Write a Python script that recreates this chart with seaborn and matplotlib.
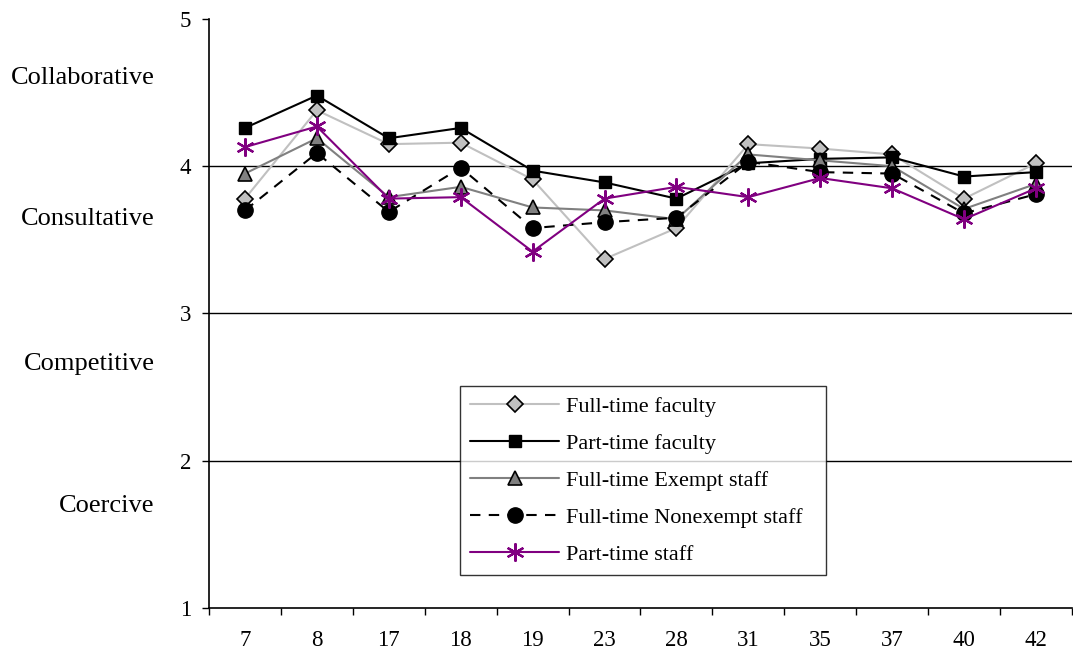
import numpy as np
import pandas as pd
import matplotlib
matplotlib.use("Agg")
import matplotlib.pyplot as plt
import seaborn as sns

# Survey items and mean scores per employee group
items = ["7", "8", "17", "18", "19", "23", "28", "31", "35", "37", "40", "42"]
full_time_faculty = [3.78, 4.38, 4.15, 4.16, 3.91, 3.37, 3.58, 4.15, 4.12, 4.08, 3.78, 4.02]
part_time_faculty = [4.26, 4.48, 4.19, 4.26, 3.97, 3.89, 3.78, 4.02, 4.05, 4.06, 3.93, 3.96]
ft_exempt_staff = [3.95, 4.19, 3.79, 3.86, 3.72, 3.70, 3.64, 4.08, 4.04, 4.00, 3.71, 3.88]
ft_nonexempt_staff = [3.70, 4.09, 3.69, 3.99, 3.58, 3.62, 3.65, 4.03, 3.96, 3.95, 3.68, 3.81]
part_time_staff = [4.13, 4.27, 3.78, 3.79, 3.42, 3.78, 3.86, 3.79, 3.92, 3.85, 3.64, 3.85]

# Style categories on the left of the scale
style_labels = ["Collaborative", "Consultative", "Competitive", "Coercive"]
style_levels = [4.6, 3.64, 2.66, 1.69]

sns.set_theme(style="white")
plt.rcParams["font.family"] = ["Liberation Serif", "DejaVu Serif"]
plt.rcParams["text.color"] = "black"
plt.rcParams["xtick.labelcolor"] = "black"
plt.rcParams["ytick.labelcolor"] = "black"

fig = plt.figure(figsize=(10.73, 6.52), dpi=100)
ax = fig.add_axes([0.1948, 0.0675, 0.8042, 0.9034])

pos = np.arange(len(items))
series = [
    ("Full-time faculty", full_time_faculty,
     dict(color="#c0c0c0", marker="D", markersize=8, markerfacecolor="#c0c0c0",
          markeredgecolor="black", markeredgewidth=1.2, linestyle="-")),
    ("Part-time faculty", part_time_faculty,
     dict(color="black", marker="s", markersize=9, markerfacecolor="black",
          markeredgecolor="black", markeredgewidth=1.0, linestyle="-")),
    ("Full-time Exempt staff", ft_exempt_staff,
     dict(color="#808080", marker="^", markersize=10, markerfacecolor="#808080",
          markeredgecolor="black", markeredgewidth=1.2, linestyle="-")),
    ("Full-time Nonexempt staff", ft_nonexempt_staff,
     dict(color="black", marker="o", markersize=11, markerfacecolor="black",
          markeredgecolor="black", markeredgewidth=1.0, linestyle=(0, (5, 4)))),
    ("Part-time staff", part_time_staff,
     dict(color="#800080", marker=(6, 2, 0), markersize=13, markerfacecolor="#800080",
          markeredgecolor="#800080", markeredgewidth=1.6, linestyle="-")),
]

for name, vals, kw in series:
    df = pd.DataFrame({"item": pos, "score": vals})
    sns.lineplot(data=df, x="item", y="score", ax=ax, label=name,
                 linewidth=1.5, **kw)

# Axis limits and ticks
ax.set_xlim(-0.5, len(items) - 0.5)
ax.set_ylim(1, 5)
ax.set_yticks([1, 2, 3, 4, 5])
ax.set_yticklabels(["1", "2", "3", "4", "5"], fontsize=16.5)
ax.set_xticks(np.arange(len(items) + 1) - 0.5)
ax.set_xticklabels([])
ax.set_xticks(pos, minor=True)
ax.set_xticklabels(items, minor=True, fontsize=16.5)
ax.tick_params(axis="x", which="major", direction="out", length=5, width=1, color="black", bottom=True)
ax.tick_params(axis="x", which="minor", length=0, pad=16, bottom=True)
ax.tick_params(axis="y", direction="out", length=5, width=1, color="black", left=True, pad=8)
ax.set_xlabel("")
ax.set_ylabel("")

for y in [2, 3, 4]:
    ax.axhline(y, color="black", linewidth=1.0, zorder=0)

for s in ["top", "right"]:
    ax.spines[s].set_visible(False)
for s in ["left", "bottom"]:
    ax.spines[s].set_color("black")
    ax.spines[s].set_linewidth(1.2)

# Style names beside the scale
for lab, lv in zip(style_labels, style_levels):
    ax.text(-0.063, lv, lab, transform=ax.get_yaxis_transform(), ha="right",
            va="center", fontsize=19, color="black")

leg = ax.legend(loc="lower left", bbox_to_anchor=(0.291, 0.056, 0.424, 0.323),
                mode="expand", borderaxespad=0, fontsize=16, frameon=True,
                fancybox=False, edgecolor="black", handlelength=4.0,
                labelspacing=0.74, borderpad=0.45, handletextpad=0.3)
leg.get_frame().set_linewidth(1.0)

fig.savefig("out.png", dpi=100)
